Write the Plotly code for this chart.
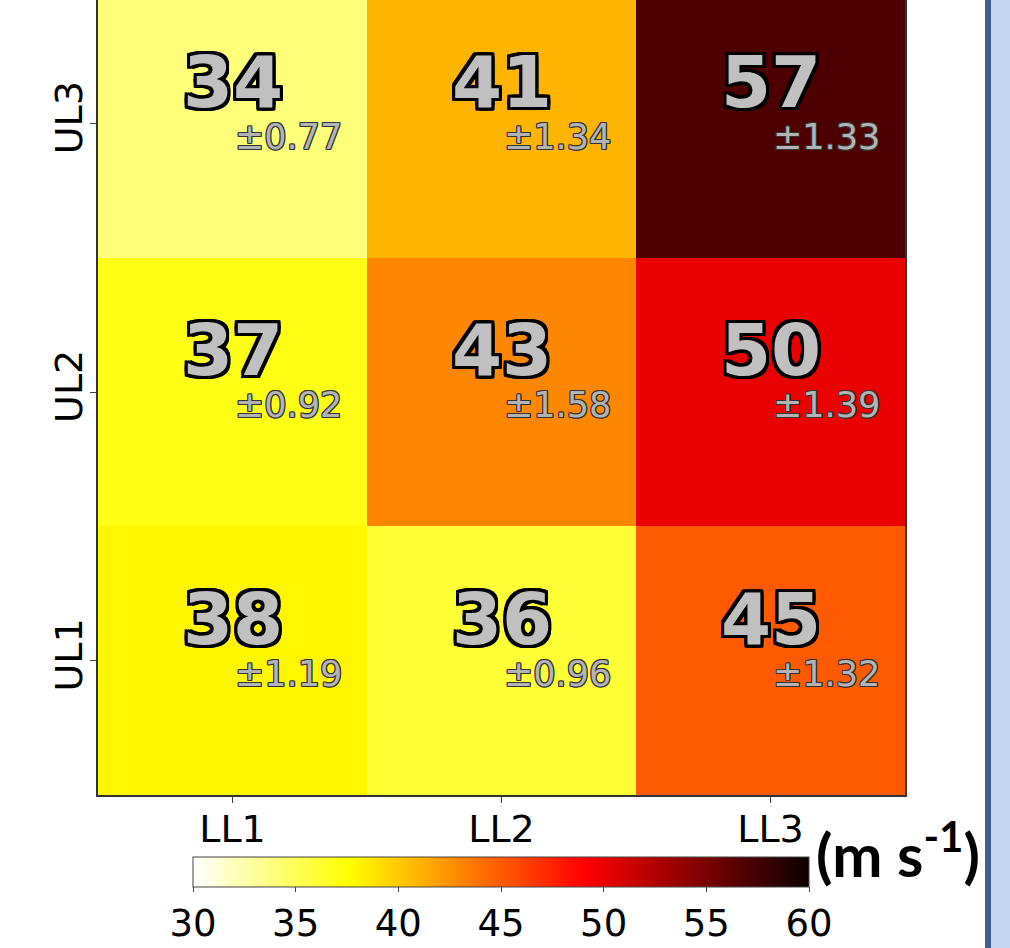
import plotly.graph_objects as go

# ---- data ----
x_labels = ["LL1", "LL2", "LL3"]
y_labels = ["UL1", "UL2", "UL3"]
values = [
    [38, 36, 45],   # UL1
    [37, 43, 50],   # UL2
    [34, 41, 57],   # UL3
]
errors = [
    ["±1.19", "±0.96", "±1.32"],
    ["±0.92", "±1.58", "±1.39"],
    ["±0.77", "±1.34", "±1.33"],
]
cbar_ticks = [30, 35, 40, 45, 50, 55, 60]
unit_text = "(m s<sup>-1</sup>)"

# matplotlib 'hot_r'
hot_r = [
    [0.0, "rgb(255,255,255)"],
    [0.253968, "rgb(255,255,0)"],
    [0.634921, "rgb(255,0,0)"],
    [1.0, "rgb(11,0,0)"],
]

W, H = 1010, 948
ml, mr, mt, mb = 98, 105, 0, 153
pw = W - ml - mr
ph = H - mt - mb

fig = go.Figure()
fig.add_trace(go.Heatmap(
    z=values, x=x_labels, y=y_labels,
    colorscale=hot_r, zmin=30, zmax=60,
    xgap=0, ygap=0,
    colorbar=dict(
        orientation="h",
        x=(501 - ml) / pw, xanchor="center",
        y=(ph - 857) / ph, yanchor="top",
        lenmode="pixels", len=616,
        thicknessmode="pixels", thickness=30,
        xpad=0, ypad=0,
        outlinecolor="#444", outlinewidth=1,
        tickmode="array", tickvals=cbar_ticks,
        ticks="outside", ticklen=5, tickcolor="#444",
        tickfont=dict(family="DejaVu Sans", size=37, color="black"),
    ),
    hoverinfo="skip",
))

big_shadow = ", ".join(
    f"{dx}px {dy}px 0 #000" for dx, dy in
    [(-3, -3), (3, -3), (-3, 3), (3, 3), (0, 3), (0, -3), (3, 0), (-3, 0),
     (-2, -3), (2, -3), (-2, 3), (2, 3), (-3, -2), (3, -2), (-3, 2), (3, 2)]
)
small_shadow = ", ".join(
    f"{dx}px {dy}px 0 #333" for dx, dy in
    [(-1, -1), (1, -1), (-1, 1), (1, 1), (0, 1), (0, -1), (1, 0), (-1, 0)]
)

for j, yl in enumerate(y_labels):
    for i, xl in enumerate(x_labels):
        fig.add_annotation(
            x=i, y=j + 0.155, xref="x", yref="y",
            text=str(values[j][i]), showarrow=False,
            xanchor="center", yanchor="middle",
            font=dict(family="DejaVu Sans", size=72, color="#c0c0c0",
                      weight="bold", shadow=big_shadow),
        )
        fig.add_annotation(
            x=i + 0.208, y=j - 0.05, xref="x", yref="y",
            text=errors[j][i], showarrow=False,
            xanchor="center", yanchor="middle",
            font=dict(family="DejaVu Sans", size=35, color="#b4b4b4",
                      shadow=small_shadow),
        )

fig.add_annotation(
    x=(898 - ml) / pw, y=(ph - 850) / ph, xref="paper", yref="paper",
    text=unit_text, showarrow=False, xanchor="center", yanchor="middle",
    font=dict(family="Lato", size=60, color="black", weight="bold"),
)

# slide border decoration on the right
fig.add_shape(type="rect", xref="paper", yref="paper",
              x0=(985 - ml) / pw, x1=(991 - ml) / pw, y0=-1, y1=2,
              fillcolor="#3b5f91", line_width=0, layer="above")
fig.add_shape(type="rect", xref="paper", yref="paper",
              x0=(991 - ml) / pw, x1=(1015 - ml) / pw, y0=-1, y1=2,
              fillcolor="#c6d8ef", line_width=0, layer="above")

fig.update_layout(
    width=W, height=H,
    margin=dict(l=ml, r=mr, t=mt, b=mb, pad=0),
    paper_bgcolor="white", plot_bgcolor="white",
    showlegend=False,
    xaxis=dict(
        type="category", range=[-0.5, 2.5],
        showline=True, linecolor="#333", linewidth=1.5, mirror=False,
        ticks="outside", ticklen=6, tickcolor="#444",
        ticklabelstandoff=-6,
        tickfont=dict(family="DejaVu Sans", size=38, color="black"),
        showgrid=False, zeroline=False, fixedrange=True,
    ),
    yaxis=dict(
        type="category", range=[-0.5, 2.5 - 11 / 269],
        showline=True, linecolor="#333", linewidth=1.5, mirror=True,
        ticks="outside", ticklen=6, tickcolor="#444", tickangle=-90,
        ticklabelstandoff=-7,
        tickfont=dict(family="DejaVu Sans", size=38, color="black"),
        showgrid=False, zeroline=False, fixedrange=True,
    ),
)

fig.write_html(
    "out.html",
    config={"displayModeBar": False},
    post_script="document.body.style.margin='0';document.body.style.overflow='hidden';",
)
